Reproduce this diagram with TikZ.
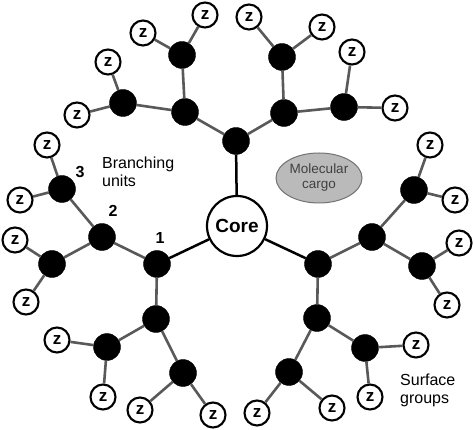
\documentclass[tikz,border=0pt]{standalone}
\usepackage{fontspec}
\setmainfont{Liberation Sans}
\usetikzlibrary{shapes.geometric}
\begin{document}
\begin{tikzpicture}[x=1pt,y=-1pt,
  bu/.style={circle,fill=black,draw=black,minimum size=27pt,inner sep=0pt},
  zz/.style={circle,fill=white,draw=black,line width=2.1pt,minimum size=25pt,inner sep=0pt,font=\fontsize{17}{17}\selectfont\bfseries},
  br/.style={draw=black!65,line width=2.6pt},
  cl/.style={draw=black,line width=2.5pt},
  num/.style={font=\fontsize{16}{16}\selectfont\bfseries,inner sep=0pt},
  lbl/.style={font=\fontsize{16}{18}\selectfont,align=left,inner sep=0pt}]
\useasboundingbox (0,0) rectangle (474,430);
\fill[white] (0,0) rectangle (474,430);
% core
\node[circle,draw=black,line width=2.2pt,fill=white,minimum size=60pt,inner sep=0pt,font=\fontsize{19}{19}\selectfont\bfseries] (core) at (237,226) {Core};
% top branch
\node[bu] (t) at (236,141) {};
\node[bu] (t1) at (185,112) {};
\node[bu] (t2) at (284,113) {};
\node[bu] (t11) at (123,103) {};
\node[bu] (t12) at (182,55) {};
\node[bu] (t21) at (282,57) {};
\node[bu] (t22) at (344,107) {};
\node[zz] (z1) at (77,115) {z};
\node[zz] (z2) at (108,62) {z};
\node[zz] (z3) at (143,33) {z};
\node[zz] (z4) at (205,15) {z};
\node[zz] (z5) at (249,17) {z};
\node[zz] (z6) at (322,27) {z};
\node[zz] (z7) at (352,52) {z};
\node[zz] (z8) at (395,108) {z};
% left branch
\node[bu] (l) at (157,264) {};
\node[bu] (l1) at (102,237) {};
\node[bu] (l2) at (156,319) {};
\node[bu] (l11) at (62,189) {};
\node[bu] (l12) at (52,264) {};
\node[bu] (l21) at (107,347) {};
\node[bu] (l22) at (183,373) {};
\node[zz] (z9) at (47,145) {z};
\node[zz] (z10) at (20,200) {z};
\node[zz] (z11) at (15,240) {z};
\node[zz] (z12) at (26,302) {z};
\node[zz] (z13) at (57,340) {z};
\node[zz] (z14) at (103,397) {z};
\node[zz] (z15) at (140,410) {z};
\node[zz] (z16) at (213,415) {z};
% right branch
\node[bu] (r) at (318,264) {};
\node[bu] (r1) at (372,237) {};
\node[bu] (r2) at (317,318) {};
\node[bu] (r11) at (414,190) {};
\node[bu] (r12) at (422,266) {};
\node[bu] (r21) at (365,348) {};
\node[bu] (r22) at (289,372) {};
\node[zz] (z17) at (430,145) {z};
\node[zz] (z18) at (455,200) {z};
\node[zz] (z19) at (459,243) {z};
\node[zz] (z20) at (447,305) {z};
\node[zz] (z21) at (416,345) {z};
\node[zz] (z22) at (370,397) {z};
\node[zz] (z23) at (257,413) {z};
\node[zz] (z24) at (332,408) {z};
% connectors
\draw[cl] (core) -- (t);
\draw[cl] (core) -- (l);
\draw[cl] (core) -- (r);
\draw[br] (t) -- (t1); \draw[br] (t) -- (t2);
\draw[br] (t1) -- (t11); \draw[br] (t1) -- (t12);
\draw[br] (t2) -- (t21); \draw[br] (t2) -- (t22);
\draw[br] (t11) -- (z1); \draw[br] (t11) -- (z2);
\draw[br] (t12) -- (z3); \draw[br] (t12) -- (z4);
\draw[br] (t21) -- (z5); \draw[br] (t21) -- (z6);
\draw[br] (t22) -- (z7); \draw[br] (t22) -- (z8);
\draw[br] (l) -- (l1); \draw[br] (l) -- (l2);
\draw[br] (l1) -- (l11); \draw[br] (l1) -- (l12);
\draw[br] (l2) -- (l21); \draw[br] (l2) -- (l22);
\draw[br] (l11) -- (z9); \draw[br] (l11) -- (z10);
\draw[br] (l12) -- (z11); \draw[br] (l12) -- (z12);
\draw[br] (l21) -- (z13); \draw[br] (l21) -- (z14);
\draw[br] (l22) -- (z15); \draw[br] (l22) -- (z16);
\draw[br] (r) -- (r1); \draw[br] (r) -- (r2);
\draw[br] (r1) -- (r11); \draw[br] (r1) -- (r12);
\draw[br] (r2) -- (r21); \draw[br] (r2) -- (r22);
\draw[br] (r11) -- (z17); \draw[br] (r11) -- (z18);
\draw[br] (r12) -- (z19); \draw[br] (r12) -- (z20);
\draw[br] (r21) -- (z21); \draw[br] (r21) -- (z22);
\draw[br] (r22) -- (z23); \draw[br] (r22) -- (z24);
% cargo
\node[ellipse,fill=black!27,draw=black!55,line width=1pt,minimum width=86pt,minimum height=50pt,inner sep=0pt,align=center,text=black!75,font=\fontsize{13.5}{15}\selectfont] (cargo) at (319,178) {Molecular\\cargo};
% labels
\node[num] (n1) at (160,238) {1};
\node[num] (n2) at (113,211) {2};
\node[num] (n3) at (80,172) {3};
\node[lbl,anchor=west] (bl) at (102,172) {Branching\\units};
\node[lbl,anchor=west] (sg) at (400,390) {Surface\\groups};
\end{tikzpicture}
\end{document}
